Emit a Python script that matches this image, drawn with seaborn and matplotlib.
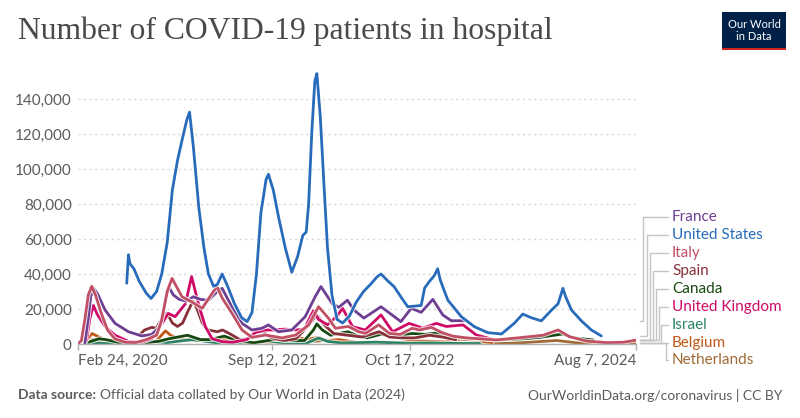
import numpy as np
import pandas as pd
import seaborn as sns
import matplotlib.pyplot as plt
import matplotlib.patheffects as pe
from matplotlib.lines import Line2D
from matplotlib.patches import Rectangle

countries = ['France', 'United States', 'Italy', 'Spain', 'Canada',
             'United Kingdom', 'Israel', 'Belgium', 'Netherlands']
colors = ['#6d3e91', '#286bbb', '#c15065', '#883039', '#18470f',
          '#cf0a66', '#2c8465', '#c05917', '#a06a35']

# values, in thousands of patients
us_dates = ['2020-07-15', '2020-07-20', '2020-07-24', '2020-08-05', '2020-08-20', '2020-09-10',
            '2020-09-24', '2020-10-10', '2020-10-25', '2020-11-10', '2020-11-25', '2020-12-10',
            '2020-12-25', '2021-01-06', '2021-01-14', '2021-01-25', '2021-02-10', '2021-02-25',
            '2021-03-10', '2021-03-25', '2021-04-05', '2021-04-19', '2021-05-05', '2021-05-25',
            '2021-06-15', '2021-07-01', '2021-07-15', '2021-07-28', '2021-08-10', '2021-08-25',
            '2021-09-01', '2021-09-15', '2021-10-01', '2021-10-20', '2021-11-08', '2021-11-25',
            '2021-12-10', '2021-12-20', '2021-12-27', '2022-01-05', '2022-01-14', '2022-01-20',
            '2022-01-30', '2022-02-10', '2022-02-20', '2022-03-05', '2022-03-20', '2022-04-05',
            '2022-04-25', '2022-05-15', '2022-06-05', '2022-06-25', '2022-07-15', '2022-07-26',
            '2022-08-15', '2022-09-02', '2022-09-25', '2022-10-12', '2022-11-20', '2022-11-30',
            '2022-12-15', '2022-12-28', '2023-01-07', '2023-01-14', '2023-01-25', '2023-02-06',
            '2023-03-17', '2023-04-24', '2023-06-02', '2023-07-12', '2023-08-18', '2023-09-12',
            '2023-10-07', '2023-11-05', '2023-12-05', '2023-12-24', '2024-01-07', '2024-01-15',
            '2024-02-01', '2024-03-01', '2024-03-30', '2024-04-28']
us_vals = [34.7, 51, 46, 43, 36, 29,
           26, 30, 40, 58, 88, 105,
           118, 128, 132.5, 113, 78, 55,
           40, 33, 34, 40, 33, 23,
           15, 12.8, 18, 40, 75, 94,
           97, 88, 72, 55, 41, 50,
           62, 64, 80, 120, 150, 154.5,
           130, 90, 55, 28, 14, 12,
           16, 24, 30, 34, 38.5, 40,
           36, 32.8, 26, 21.3, 22, 32,
           36, 39, 43, 37, 31, 25,
           15.6, 9.9, 6.5, 5.7, 11.8, 17.1,
           15, 13.2, 19.4, 23, 31.8, 27,
           19.4, 13.2, 8, 4.6]

fr_dates = ['2020-03-15', '2020-03-25', '2020-04-01', '2020-04-09', '2020-04-20', '2020-05-13',
            '2020-06-11', '2020-07-20', '2020-08-28', '2020-09-26', '2020-10-20', '2020-11-05',
            '2020-11-14', '2020-11-28', '2020-12-15', '2021-01-05', '2021-01-25', '2021-02-15',
            '2021-03-10', '2021-04-05', '2021-04-19', '2021-05-18', '2021-06-16', '2021-07-15',
            '2021-08-13', '2021-09-01', '2021-09-30', '2021-11-08', '2021-12-17', '2022-01-15',
            '2022-02-01', '2022-03-06', '2022-03-25', '2022-04-19', '2022-05-08', '2022-06-06',
            '2022-07-26', '2022-09-22', '2022-10-22', '2022-11-20', '2022-12-24', '2023-01-22',
            '2023-02-16', '2023-03-31']
fr_vals = [0.5, 15, 27, 31.8, 29, 19.4,
           11.8, 7, 4.6, 5.5, 10, 26,
           32.8, 28, 25.5, 24.5, 27, 25.5,
           25, 30, 31.8, 21, 11.8, 8,
           9, 10.9, 7, 8, 15.6, 27,
           32.8, 23, 21, 25, 19.4, 14.8,
           21.3, 12.8, 20.4, 18.1, 25.5, 16.6,
           13.3, 13.3]

it_dates = ['2020-02-24', '2020-03-05', '2020-03-15', '2020-03-25', '2020-04-04', '2020-04-15',
            '2020-05-01', '2020-05-20', '2020-06-10', '2020-07-10', '2020-08-10', '2020-09-10',
            '2020-10-10', '2020-10-25', '2020-11-10', '2020-11-24', '2020-12-23', '2021-01-21',
            '2021-02-20', '2021-03-21', '2021-04-04', '2021-04-20', '2021-05-18', '2021-06-16',
            '2021-07-15', '2021-08-23', '2021-10-11', '2021-11-19', '2021-12-27', '2022-01-25',
            '2022-02-23', '2022-03-15', '2022-04-22', '2022-05-22', '2022-06-11', '2022-07-19',
            '2022-08-20', '2022-09-20', '2022-10-25', '2022-11-15', '2022-12-20', '2023-01-20',
            '2023-02-20', '2023-04-01', '2023-06-27', '2023-09-12', '2023-11-10', '2023-12-24',
            '2024-01-26', '2024-03-15', '2024-05-13', '2024-07-01', '2024-08-07']
it_vals = [0.1, 2, 14, 28, 33, 28,
           18, 8, 3, 1, 0.8, 2.5,
           5, 13.7, 30, 37.5, 27, 24,
           20.4, 29, 32.8, 26, 17.5, 8,
           3.8, 5.1, 3.5, 5.1, 10.9, 21.3,
           14.7, 9, 10, 7, 6.1, 10.9,
           6, 5.5, 9, 8, 9.5, 6.5,
           4.5, 3.5, 2.3, 3.8, 5, 8,
           4.2, 1.7, 0.8, 1, 2.2]

es_dates = ['2020-08-20', '2020-09-05', '2020-09-26', '2020-10-10', '2020-10-25', '2020-11-09',
            '2020-11-25', '2020-12-10', '2020-12-25', '2021-01-10', '2021-01-24', '2021-02-05',
            '2021-02-20', '2021-03-10', '2021-04-05', '2021-04-20', '2021-05-10', '2021-06-10',
            '2021-07-05', '2021-07-28', '2021-08-15', '2021-09-10', '2021-10-15', '2021-11-20',
            '2021-12-20', '2022-01-20', '2022-02-10', '2022-03-10', '2022-04-20', '2022-06-01',
            '2022-07-20', '2022-08-20', '2022-09-25', '2022-11-01', '2022-12-15', '2023-01-20',
            '2023-03-01']
es_vals = [5, 8, 9.5, 9, 15, 17.7,
           12, 10, 12, 19, 24.5, 20,
           12, 8, 7, 8, 6, 2.5,
           3, 8, 7, 3.5, 2, 3,
           9, 16.6, 11, 6, 5, 4,
           7, 4, 3.5, 3.5, 5, 4,
           2.5]

ca_dates = ['2020-03-25', '2020-04-25', '2020-05-15', '2020-06-20', '2020-08-15', '2020-10-15',
            '2020-11-15', '2021-01-08', '2021-02-15', '2021-03-15', '2021-04-25', '2021-06-01',
            '2021-07-20', '2021-09-20', '2021-11-01', '2021-12-15', '2022-01-10', '2022-01-20',
            '2022-02-05', '2022-03-01', '2022-04-20', '2022-05-15', '2022-06-15', '2022-07-25',
            '2022-09-01', '2022-10-25', '2022-12-01', '2023-01-05', '2023-02-10', '2023-05-01',
            '2023-07-01', '2023-09-15', '2023-11-01', '2024-01-05', '2024-02-10', '2024-04-04']
ca_vals = [1, 3, 2.5, 1, 0.4, 1.5,
           3, 5, 2.5, 2.5, 4.5, 2,
           0.7, 2.6, 2, 2, 8, 11.5,
           8, 5, 7, 5, 3.5, 5.5,
           4.5, 6, 5.5, 6.3, 4, 3,
           2.3, 3, 3.8, 5.7, 3.5, 2.3]

uk_dates = ['2020-03-20', '2020-03-30', '2020-04-09', '2020-04-20', '2020-05-13', '2020-06-11',
            '2020-07-20', '2020-08-28', '2020-09-26', '2020-10-26', '2020-11-13', '2020-12-03',
            '2021-01-02', '2021-01-20', '2021-02-09', '2021-03-01', '2021-03-21', '2021-04-20',
            '2021-05-20', '2021-06-30', '2021-07-25', '2021-08-20', '2021-09-15', '2021-10-20',
            '2021-11-20', '2021-12-15', '2021-12-28', '2022-01-10', '2022-01-25', '2022-02-20',
            '2022-03-20', '2022-04-05', '2022-04-20', '2022-05-04', '2022-06-10', '2022-07-26',
            '2022-08-29', '2022-10-16', '2022-11-25', '2023-01-03', '2023-02-01', '2023-03-22',
            '2023-04-30', '2023-06-20']
uk_vals = [2, 15, 22, 17, 10, 5,
           1.5, 1, 3, 11.8, 17.5, 15.6,
           23, 38.5, 23, 9.9, 3, 1.3,
           1, 2.5, 6.5, 8, 8, 8.5,
           8, 8.5, 14, 19, 14, 11,
           16, 20.4, 15, 9.9, 8, 16.6,
           7, 11.8, 9, 11.8, 10, 10.9,
           5.1, 2.5]

il_dates = ['2020-03-15', '2020-04-10', '2020-05-15', '2020-07-20', '2020-09-25', '2020-10-15',
            '2020-11-10', '2021-01-20', '2021-02-20', '2021-04-10', '2021-06-15', '2021-08-30',
            '2021-09-15', '2021-11-01', '2021-12-20', '2022-01-25', '2022-02-20', '2022-04-01',
            '2022-07-10', '2022-08-15', '2022-10-15', '2022-12-15', '2023-01-10', '2023-03-15',
            '2023-05-10']
il_vals = [0.1, 0.7, 0.3, 0.8, 1.5, 1.2,
           0.8, 2.5, 1.8, 0.5, 0.1, 1.5,
           1.4, 0.3, 0.4, 3.4, 1.5, 0.6,
           1, 0.8, 0.4, 0.6, 0.5, 0.3,
           0.3]

be_dates = ['2020-03-15', '2020-03-28', '2020-04-05', '2020-04-20', '2020-05-15', '2020-06-15',
            '2020-08-15', '2020-10-10', '2020-11-05', '2020-11-20', '2020-12-20', '2021-01-20',
            '2021-03-10', '2021-04-15', '2021-06-01', '2021-07-15', '2021-09-01', '2021-10-20',
            '2021-12-01', '2021-12-20', '2022-01-25', '2022-02-20', '2022-03-25', '2022-05-20',
            '2022-07-15', '2022-09-15', '2022-10-25', '2022-12-20', '2023-01-30', '2023-03-15',
            '2023-06-15']
be_vals = [0.3, 4, 6, 4.5, 2, 0.5,
           0.3, 2, 7.5, 5, 2.8, 2,
           2.5, 3, 1, 0.3, 0.8, 1.2,
           3.5, 2.5, 3.8, 2, 2.5, 0.8,
           1.3, 0.7, 1.8, 1.5, 1.2, 2.8,
           0.8]

nl_dates = ['2020-03-15', '2020-04-08', '2020-05-10', '2020-07-01', '2020-10-01', '2020-11-01',
            '2020-12-01', '2021-01-05', '2021-02-15', '2021-04-25', '2021-06-15', '2021-07-25',
            '2021-09-15', '2021-11-25', '2022-01-10', '2022-02-10', '2022-04-15', '2022-07-15',
            '2022-09-15', '2022-10-15', '2023-01-05', '2023-03-15', '2023-06-15', '2023-09-15',
            '2023-12-20', '2024-02-15', '2024-05-15', '2024-08-07']
nl_vals = [0.2, 2.8, 1, 0.2, 0.8, 2.4,
           1.8, 2.8, 2.3, 2.7, 0.5, 0.7,
           0.5, 2.8, 1.5, 2, 1, 1.2,
           0.5, 1, 0.8, 0.5, 0.3, 0.8,
           2, 0.7, 0.2, 0.5]

series = {
    'France': (fr_dates, fr_vals),
    'United States': (us_dates, us_vals),
    'Italy': (it_dates, it_vals),
    'Spain': (es_dates, es_vals),
    'Canada': (ca_dates, ca_vals),
    'United Kingdom': (uk_dates, uk_vals),
    'Israel': (il_dates, il_vals),
    'Belgium': (be_dates, be_vals),
    'Netherlands': (nl_dates, nl_vals),
}

tick_dates = ['2020-02-24', '2021-09-12', '2022-10-17', '2024-08-07']
tick_labels = ['Feb 24, 2020', 'Sep 12, 2021', 'Oct 17, 2022', 'Aug 7, 2024']

frames = []
for c in countries:
    d, v = series[c]
    frames.append(pd.DataFrame({'date': pd.to_datetime(d), 'patients': np.array(v) * 1000, 'country': c}))
df = pd.concat(frames, ignore_index=True)

sns.set_theme(style='white')
plt.rcParams['font.family'] = ['Lato', 'DejaVu Sans']

W, H = 800, 418
fig = plt.figure(figsize=(W / 100, H / 100), dpi=100)

def fx(x):
    return x / W

def fy(y):
    return 1 - y / H

ax = fig.add_axes([fx(78), fy(344), fx(636 - 78), (344 - 64) / H])

draw_order = ['Netherlands', 'Belgium', 'Israel', 'Canada', 'Spain', 'United Kingdom', 'France', 'Italy', 'United States']
pal = dict(zip(countries, colors))
sns.lineplot(data=df, x='date', y='patients', hue='country', hue_order=draw_order,
             palette=pal, linewidth=2.0, legend=False, estimator=None, ax=ax)
for ln in ax.lines:
    ln.set_path_effects([pe.Stroke(linewidth=3.4, foreground='white', alpha=0.8), pe.Normal()])
    ln.set_solid_joinstyle('round')
    ln.set_solid_capstyle('round')

ax.set_xlim(pd.Timestamp(tick_dates[0]), pd.Timestamp(tick_dates[-1]))
ax.set_ylim(0, 160000)
ax.set_yticks(np.arange(0, 140001, 20000))
ax.set_yticklabels([f'{int(v):,}' for v in np.arange(0, 140001, 20000)])
ax.set_xticks(pd.to_datetime(tick_dates))
ax.set_xticklabels(tick_labels)
for lab, ha in zip(ax.get_xticklabels(), ['left', 'center', 'center', 'right']):
    lab.set_ha(ha)

ax.set_xlabel('')
ax.set_ylabel('')
for s in ['left', 'top', 'right']:
    ax.spines[s].set_visible(False)
ax.spines['bottom'].set_color('#b0b0b0')
ax.spines['bottom'].set_linewidth(1)
ax.yaxis.grid(True, color='#d6d6d6', linestyle=(0, (1.5, 2.5)), linewidth=1)
ax.xaxis.grid(False)
ax.tick_params(axis='y', length=0, pad=4.5, labelsize=11, labelcolor='#5b5b5b')
ax.tick_params(axis='x', length=4, width=1, color='#b0b0b0', pad=3, labelsize=11,
               labelcolor='#5b5b5b', direction='out', bottom=True)
ax.set_facecolor('none')

# title
fig.text(fx(18), fy(31), 'Number of COVID-19 patients in hospital', family='Liberation Serif',
         fontsize=22.8, color='#4a4a4a', va='center', ha='left')

# logo
fig.add_artist(Rectangle((fx(722), fy(50)), fx(64), 38 / H, transform=fig.transFigure,
                         facecolor='#002147', edgecolor='none'))
fig.add_artist(Rectangle((fx(722), fy(50)), fx(64), 2.5 / H, transform=fig.transFigure,
                         facecolor='#ce261e', edgecolor='none'))
fig.text(fx(754), fy(24), 'Our World', color='white', fontsize=8, ha='center', va='center')
fig.text(fx(754), fy(37), 'in Data', color='white', fontsize=8, ha='center', va='center')

# end labels with connectors
label_y = [217, 235, 253, 271, 289, 307, 325, 342.5, 360]
bend_x = [643, 646.5, 649.5, 652.5, 655.5, 658.5, 661, 663.5, 665.5]
for c, col, ly, bx in zip(countries, colors, label_y, bend_x):
    last = series[c][1][-1] * 1000
    y_end = ax.transData.transform((0, last))[1]
    y_lab = H - ly
    fig.add_artist(Line2D([fx(640), fx(bx), fx(bx), fx(668)],
                          [y_end / H, y_end / H, y_lab / H, y_lab / H],
                          transform=fig.transFigure, color='#c4c4c4', linewidth=1))
    fig.text(fx(672), y_lab / H, c, color=col, fontsize=11, va='center', ha='left')

# footer
t1 = fig.text(fx(18), fy(395), 'Data source:', fontsize=10, color='#5b5b5b', fontweight='bold',
              va='center', ha='left')
fig.canvas.draw()
bb = t1.get_window_extent()
fig.text((bb.x1 + 4) / W, fy(395), 'Official data collated by Our World in Data (2024)', fontsize=10,
         color='#5b5b5b', va='center', ha='left')
fig.text(fx(782), fy(395), 'OurWorldinData.org/coronavirus | CC BY', fontsize=10,
         color='#5b5b5b', va='center', ha='right')

fig.savefig('out.png', dpi=100)
